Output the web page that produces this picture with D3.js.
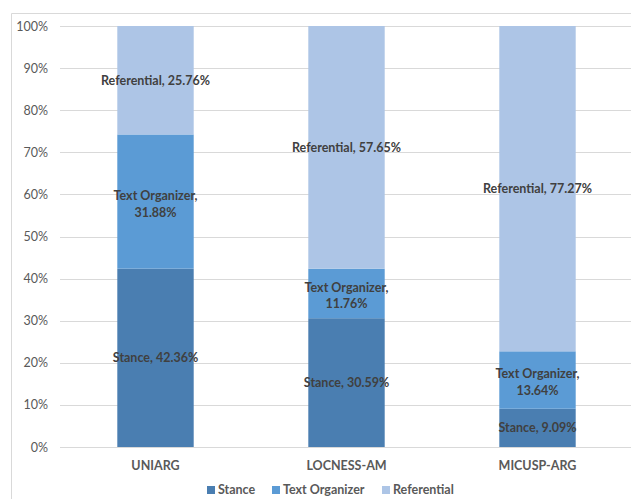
<!DOCTYPE html>
<html>
<head>
<meta charset="utf-8">
<script src="https://cdn.jsdelivr.net/npm/d3@7"></script>
<style>
  html, body { margin: 0; padding: 0; background: #ffffff; }
  svg { display: block; }
</style>
</head>
<body>
<svg id="chart" width="631" height="499"></svg>
<script>
// Corpora shown on the x axis
const categories = ["UNIARG", "LOCNESS-AM", "MICUSP-ARG"];
// Share of each marker type per corpus (percent)
const stance        = [42.36, 30.59, 9.09];
const textOrganizer = [31.88, 11.76, 13.64];
const referential   = [25.76, 57.65, 77.27];
// Series order from bottom to top of each stack
const seriesNames  = ["Stance", "Text Organizer", "Referential"];
const seriesColors = ["#4a7eb1", "#5b9bd5", "#adc5e6"];
const yTicks = [0, 10, 20, 30, 40, 50, 60, 70, 80, 90, 100];

const rows = categories.map((c, i) => ({
  category: c,
  "Stance": stance[i],
  "Text Organizer": textOrganizer[i],
  "Referential": referential[i]
}));

const svg = d3.select("#chart");
const FONT = "Lato, 'Liberation Sans', Arial, sans-serif";

// Outer chart frame
svg.append("path")
  .attr("d", "M11.5,499 V13.5 H631")
  .attr("fill", "none")
  .attr("stroke", "#d9d9d9")
  .attr("stroke-width", 1);

const plot = { left: 60, right: 633, top: 26, bottom: 447 };

const x = d3.scaleBand()
  .domain(categories)
  .range([plot.left, plot.right])
  .paddingInner(0.6)
  .paddingOuter(0.3);

const y = d3.scaleLinear()
  .domain([0, 100])
  .range([plot.bottom, plot.top]);

// Horizontal gridlines
svg.append("g")
  .selectAll("line")
  .data(yTicks)
  .join("line")
  .attr("x1", plot.left)
  .attr("x2", 631)
  .attr("y1", d => Math.round(y(d)) + 0.5)
  .attr("y2", d => Math.round(y(d)) + 0.5)
  .attr("stroke", "#d9d9d9")
  .attr("stroke-width", 1);

// Y axis labels
const yAxis = d3.axisLeft(y)
  .tickValues(yTicks)
  .tickFormat(d => d + "%")
  .tickSize(0)
  .tickPadding(12);

const yg = svg.append("g")
  .attr("transform", `translate(${plot.left},0)`)
  .call(yAxis);
yg.select(".domain").remove();
yg.selectAll("text")
  .attr("font-family", FONT)
  .attr("font-size", "12.5px")
  .attr("fill", "#595959");

// Stacked bars
const stack = d3.stack().keys(seriesNames);
const stacked = stack(rows);
const color = d3.scaleOrdinal().domain(seriesNames).range(seriesColors);

const layers = svg.append("g")
  .selectAll("g")
  .data(stacked)
  .join("g")
  .attr("fill", d => color(d.key));

layers.selectAll("rect")
  .data(d => d.map(v => ({ key: d.key, v })))
  .join("rect")
  .attr("x", d => x(d.v.data.category))
  .attr("width", x.bandwidth())
  .attr("y", d => y(d.v[1]))
  .attr("height", d => y(d.v[0]) - y(d.v[1]));

// Data labels: "Series, value%"; labels wider than the bar wrap onto two lines
const labelG = svg.append("g")
  .attr("font-family", FONT)
  .attr("font-size", "12.5px")
  .attr("font-weight", "bold")
  .attr("fill", "#404040")
  .attr("text-anchor", "middle");

stacked.forEach(layer => {
  layer.forEach(v => {
    const val = v[1] - v[0];
    const cx = x(v.data.category) + x.bandwidth() / 2;
    const cy = (y(v[0]) + y(v[1])) / 2;
    const pct = val.toFixed(2) + "%";
    const wrap = layer.key === "Text Organizer";
    const t = labelG.append("text")
      .attr("x", cx)
      .attr("y", cy);
    if (wrap) {
      t.append("tspan").attr("x", cx).attr("dy", "-0.15em").text(layer.key + ",");
      t.append("tspan").attr("x", cx).attr("dy", "1.35em").text(pct);
    } else {
      t.attr("dy", "0.35em").text(layer.key + ", " + pct);
    }
  });
});

// Category axis labels
const xAxis = d3.axisBottom(x).tickSize(0).tickPadding(14);
const xg = svg.append("g")
  .attr("transform", `translate(0,${plot.bottom})`)
  .call(xAxis);
xg.select(".domain").remove();
xg.selectAll("text")
  .attr("font-family", FONT)
  .attr("font-size", "12.5px")
  .attr("font-weight", "bold")
  .attr("fill", "#595959");

// Legend
const legendX = [207, 272, 382];
const legend = svg.append("g")
  .selectAll("g")
  .data(seriesNames)
  .join("g")
  .attr("transform", (d, i) => `translate(${legendX[i]},490)`);

legend.append("rect")
  .attr("x", 0)
  .attr("y", -4)
  .attr("width", 8)
  .attr("height", 8)
  .attr("fill", d => color(d));

legend.append("text")
  .attr("x", 11)
  .attr("y", 0)
  .attr("dy", "0.35em")
  .attr("font-family", FONT)
  .attr("font-size", "12.5px")
  .attr("font-weight", "bold")
  .attr("fill", "#595959")
  .text(d => d);
</script>
</body>
</html>
